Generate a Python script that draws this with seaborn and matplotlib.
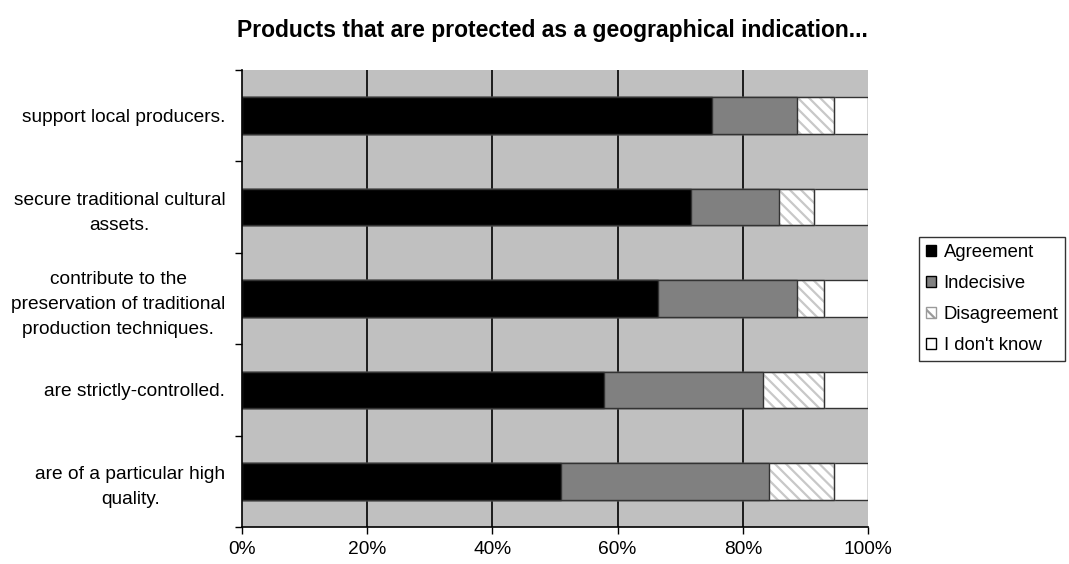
import matplotlib
matplotlib.use("Agg")
import matplotlib.pyplot as plt
from matplotlib.patches import Patch
import numpy as np
import pandas as pd
import seaborn as sns

# Survey statements (top to bottom) and response shares in percent
statements = [
    "support local producers.",
    "secure traditional cultural\nassets.",
    "contribute to the\npreservation of traditional\nproduction techniques.",
    "are strictly-controlled.",
    "are of a particular high\nquality.",
]
agreement = [75.0, 71.8, 66.4, 57.8, 51.0]
indecisive = [13.6, 14.0, 22.2, 25.4, 33.2]
disagreement = [5.9, 5.5, 4.4, 9.8, 10.3]
dont_know = [5.5, 8.7, 7.0, 7.0, 5.5]

responses = ["Agreement", "Indecisive", "Disagreement", "I don't know"]

sns.set_theme(style="white")
plt.rcParams["font.family"] = ["Liberation Sans", "DejaVu Sans"]
plt.rcParams["hatch.linewidth"] = 1.6
for key in ["text.color", "axes.labelcolor", "xtick.color", "ytick.color"]:
    plt.rcParams[key] = "black"

df = pd.DataFrame({
    "statement": statements,
    "Agreement": agreement,
    "Indecisive": indecisive,
    "Disagreement": disagreement,
    "I don't know": dont_know,
})
# cumulative right ends of each stacked segment
cum = df[responses].cumsum(axis=1)
cum["statement"] = df["statement"]

fig = plt.figure(figsize=(10.69, 5.64), dpi=100)
ax = fig.add_axes([242 / 1069, 1 - 527 / 564, (868 - 242) / 1069, (527 - 70) / 564])
ax.set_facecolor("#c0c0c0")

# vertical grid lines behind the bars
for gx in [20, 40, 60, 80]:
    ax.axvline(gx, color="black", lw=1.2, zorder=0.5)

edge = "#333333"
bw = 0.4
common = dict(y="statement", orient="h", width=bw, ax=ax, order=statements,
              linewidth=1.0)

# widest segment first, each narrower cumulative bar drawn on top
sns.barplot(data=cum, x="I don't know", color="white", edgecolor=edge,
            saturation=1, **common)
sns.barplot(data=cum, x="Disagreement", color="white", edgecolor="#c8c8c8",
            hatch="\\\\\\", saturation=1, **common)
sns.barplot(data=cum, x="Disagreement", fill=False, edgecolor=edge, **common)
sns.barplot(data=cum, x="Indecisive", color="#808080", edgecolor=edge,
            saturation=1, **common)
sns.barplot(data=cum, x="Agreement", color="black", edgecolor=edge,
            saturation=1, **common)

ax.set_xlim(0, 100)
ax.set_ylim(len(statements) - 0.5, -0.5)
ax.set_xticks([0, 20, 40, 60, 80, 100])
ax.set_xticklabels([f"{v}%" for v in [0, 20, 40, 60, 80, 100]], fontsize=13.8)
ax.set_xlabel("")
ax.set_ylabel("")

ax.set_yticks(range(len(statements)))
ax.set_yticklabels(statements, fontsize=13.8)
for lab in ax.get_yticklabels():
    lab.set_multialignment("center")
    lab.set_linespacing(1.62)
ax.tick_params(axis="y", which="major", length=0, pad=12)
ax.set_yticks(np.arange(-0.5, len(statements), 1.0), minor=True)
ax.tick_params(axis="y", which="minor", left=True, length=5, width=1.0,
               color="black", direction="out")
ax.tick_params(axis="x", which="major", bottom=True, length=5, width=1.0,
               color="black", direction="out", pad=5)

for side in ["top", "right"]:
    ax.spines[side].set_visible(False)
for side in ["left", "bottom"]:
    ax.spines[side].set_visible(True)
    ax.spines[side].set_color("black")
    ax.spines[side].set_linewidth(1.2)
ax.set_axisbelow(False)

fig.text(0.517, 1 - 31 / 564, "Products that are protected as a geographical indication...",
         ha="center", va="center", fontsize=16.5, fontweight="bold")

handles = [
    Patch(facecolor="black", edgecolor="black", label="Agreement"),
    Patch(facecolor="#808080", edgecolor="black", label="Indecisive"),
    Patch(facecolor="white", edgecolor="#9a9a9a", hatch="\\\\", label="Disagreement"),
    Patch(facecolor="white", edgecolor="black", label="I don't know"),
]
leg = fig.legend(handles=handles, loc="center left",
                 bbox_to_anchor=(919 / 1069, 1 - 299 / 564),
                 fontsize=13.3, frameon=True, fancybox=False, shadow=False,
                 handlelength=0.55, handleheight=0.55, handletextpad=0.4,
                 borderpad=0.38, labelspacing=0.77, borderaxespad=0)
leg.get_frame().set_edgecolor("black")
leg.get_frame().set_linewidth(1.0)

fig.savefig("out.png", dpi=100)
